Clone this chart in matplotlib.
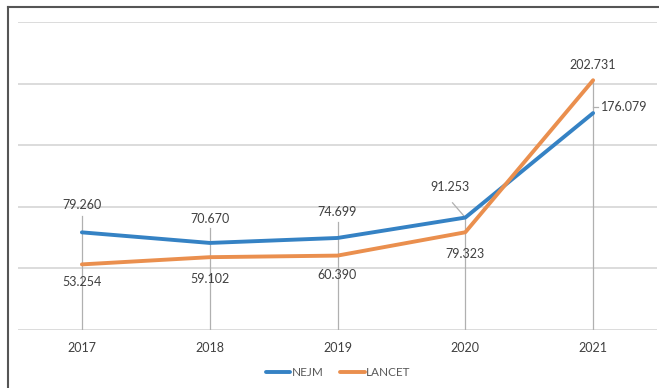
import matplotlib.pyplot as plt
from matplotlib.lines import Line2D

years = ['2017', '2018', '2019', '2020', '2021']
nejm = [79.260, 70.670, 74.699, 91.253, 176.079]
lancet = [53.254, 59.102, 60.390, 79.323, 202.731]

# label offsets in pixels (dx, dy)
nejm_off = [(0, 27), (0, 24), (0, 26), (-15, 31), (31, 6)]
lancet_off = [(0, -18), (0, -22), (0, -19), (0, -22), (0, 15)]
# how far leader lines run above the top point
lead_ext = [13, 12, 13, 0, 0]

plt.rcParams['font.family'] = ['Lato', 'DejaVu Sans']

fig = plt.figure(figsize=(6.59, 3.88), dpi=100)
ax = fig.add_axes([18 / 659, 58 / 388, 639 / 659, 308 / 388])

x = list(range(len(years)))
for y in range(0, 251, 50):
    ax.axhline(y, color='#d9d9d9', lw=1.3, zorder=0)

# leader / drop lines
for i in x:
    top = max(nejm[i], lancet[i]) + lead_ext[i]
    ax.plot([i, i], [0, top], color='#b0b0b0', lw=0.9, zorder=1)
ax.plot([3, 2.9], [nejm[3], nejm[3] + 12], color='#b0b0b0', lw=0.9, zorder=1)
ax.plot([4, 4.04], [nejm[4] + 5, nejm[4] + 5], color='#b0b0b0', lw=0.9, zorder=1)

ax.plot(x, nejm, color='#3582c4', lw=2.8, label='NEJM', zorder=3, solid_capstyle='round')
ax.plot(x, lancet, color='#ea8f4e', lw=2.8, label='LANCET', zorder=3, solid_capstyle='round')

for i in x:
    ax.annotate(f'{nejm[i]:.3f}', (i, nejm[i]), xytext=nejm_off[i], textcoords='offset pixels',
                ha='center', va='center', fontsize=9, color='#404040')
    ax.annotate(f'{lancet[i]:.3f}', (i, lancet[i]), xytext=lancet_off[i], textcoords='offset pixels',
                ha='center', va='center', fontsize=9, color='#404040')

ax.set_xlim(-0.5, 4.5)
ax.set_ylim(0, 250)
ax.set_xticks(x)
ax.set_xticklabels(years, fontsize=9, color='#404040')
ax.tick_params(axis='x', length=0, pad=9)
ax.set_yticks([])
for s in ax.spines.values():
    s.set_visible(False)

leg = fig.legend(loc='center', bbox_to_anchor=(338 / 659, 1 - 373 / 388), ncol=2, frameon=False,
                 fontsize=8.5, handlelength=2.1, columnspacing=1.4, handletextpad=0.1)
for t in leg.get_texts():
    t.set_color('#595959')

# outer frame (cut at right and bottom)
fig.add_artist(Line2D([8 / 659, 8 / 659], [0, 1 - 7 / 388], transform=fig.transFigure, color='#555555', lw=1.5))
fig.add_artist(Line2D([8 / 659, 1], [1 - 7 / 388, 1 - 7 / 388], transform=fig.transFigure, color='#555555', lw=1.5))

fig.savefig('out.png', dpi=100)
